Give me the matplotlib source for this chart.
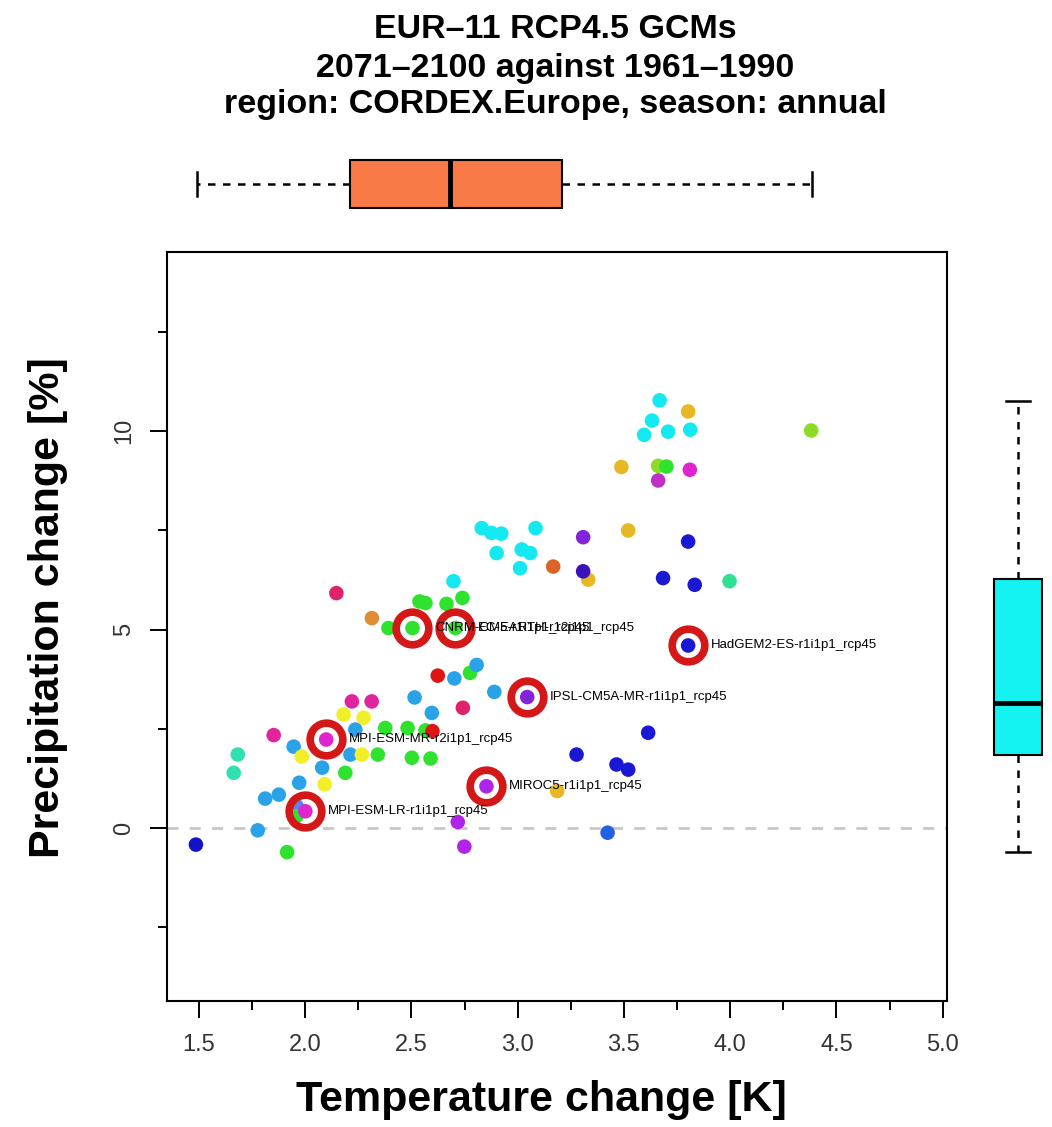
import matplotlib
matplotlib.use('Agg')
import matplotlib.pyplot as plt
from matplotlib.ticker import MultipleLocator, FixedLocator

plt.rcParams['font.family'] = ['Liberation Sans', 'DejaVu Sans']

# colours of the model groups
CY = '#14E8F0'
SKY = '#2AA2E8'
NAVY = '#1212C8'
BLUE = '#1A18D4'
BLUE2 = '#2262E2'
INDIGO = '#3A12B8'
PURPLE = '#8224DA'
VIOLET = '#B024E8'
MAG = '#E024D0'
MAG2 = '#E0249E'
PINKRED = '#E0226A'
RED = '#E01414'
DORANGE = '#DA6428'
ORANGE = '#E08C34'
GOLD = '#E8B824'
YELLOW = '#F2EE28'
LIME = '#8ADC24'
GREEN = '#2EE22E'
TEAL = '#30E092'
TEAL2 = '#30E0AE'
PERI = '#5A86EA'

# temperature change [K], precipitation change [%] and colour of every run
temp = [3.668, 3.802, 3.632, 3.595, 3.708, 3.812, 4.381, 3.488, 3.661, 3.700,
        3.810, 3.661, 2.831, 2.876, 2.923, 3.084, 2.901, 3.019, 3.059, 3.011,
        3.167, 3.308, 3.520, 3.332, 3.308, 3.802, 3.684, 3.833, 3.997, 2.698,
        2.740, 2.147, 2.314, 2.538, 2.566, 2.665, 2.392, 2.505, 2.707, 3.802,
        2.624, 2.702, 2.776, 2.807, 2.890, 3.045, 2.515, 2.220, 2.313, 2.742,
        2.596, 2.181, 2.275, 1.852, 1.946, 2.099, 2.236, 2.377, 2.482, 2.566,
        2.599, 1.984, 2.213, 2.267, 2.342, 2.502, 2.590, 1.683, 1.664, 2.080,
        2.189, 2.092, 1.972, 1.876, 1.812, 1.960, 1.960, 2.001, 1.777, 1.486,
        1.915, 2.853, 3.186, 2.718, 2.749, 3.423, 3.614, 3.277, 3.465, 3.520]
prec = [10.78, 10.50, 10.27, 9.91, 9.99, 10.04, 10.02, 9.10, 9.13, 9.11,
        9.03, 8.76, 7.56, 7.44, 7.42, 7.56, 6.93, 7.02, 6.93, 6.55,
        6.59, 7.33, 7.50, 6.26, 6.47, 7.22, 6.30, 6.13, 6.22, 6.22,
        5.80, 5.92, 5.29, 5.71, 5.67, 5.65, 5.04, 5.04, 5.04, 4.60,
        3.84, 3.77, 3.91, 4.11, 3.43, 3.30, 3.29, 3.19, 3.19, 3.03,
        2.90, 2.86, 2.78, 2.34, 2.05, 2.23, 2.48, 2.52, 2.52, 2.46,
        2.44, 1.80, 1.85, 1.85, 1.85, 1.77, 1.75, 1.85, 1.39, 1.52,
        1.39, 1.10, 1.14, 0.84, 0.74, 0.55, 0.30, 0.42, -0.06, -0.42,
        -0.61, 1.05, 0.93, 0.15, -0.47, -0.12, 2.40, 1.85, 1.60, 1.47]
cols = [CY, GOLD, CY, CY, CY, CY, LIME, GOLD, LIME, GREEN,
        MAG, '#C030C8', CY, CY, CY, CY, CY, CY, CY, CY,
        DORANGE, PURPLE, GOLD, GOLD, INDIGO, BLUE, BLUE, BLUE, TEAL, CY,
        GREEN, PINKRED, ORANGE, GREEN, GREEN, GREEN, GREEN, GREEN, GREEN, BLUE,
        RED, SKY, GREEN, SKY, SKY, PURPLE, SKY, MAG2, MAG2, PINKRED,
        SKY, YELLOW, YELLOW, MAG2, SKY, MAG, SKY, GREEN, GREEN, GREEN,
        RED, YELLOW, SKY, YELLOW, GREEN, GREEN, GREEN, TEAL2, TEAL2, SKY,
        GREEN, YELLOW, SKY, SKY, SKY, PERI, GREEN, MAG, SKY, NAVY,
        GREEN, VIOLET, GOLD, VIOLET, VIOLET, BLUE2, BLUE, BLUE, BLUE, BLUE]

# selected GCMs (circled)
hl_names = ['CNRM-CM5-r1i1p1_rcp45', 'EC-EARTH-r12i1p1_rcp45', 'HadGEM2-ES-r1i1p1_rcp45',
            'IPSL-CM5A-MR-r1i1p1_rcp45', 'MPI-ESM-MR-r2i1p1_rcp45', 'MIROC5-r1i1p1_rcp45',
            'MPI-ESM-LR-r1i1p1_rcp45']
hl_temp = [2.505, 2.707, 3.802, 3.045, 2.099, 2.853, 2.001]
hl_prec = [5.04, 5.04, 4.60, 3.30, 2.23, 1.05, 0.42]

# marginal box plots (whisker low, q1, median, q3, whisker high)
temp_box = [1.49, 2.213, 2.681, 3.207, 4.386]
prec_box = [-0.60, 1.85, 3.16, 6.28, 10.77]

title_lines = ['EUR–11 RCP4.5 GCMs', '2071–2100 against 1961–1990',
               'region: CORDEX.Europe, season: annual']

W, H = 1052, 1127
fig = plt.figure(figsize=(W / 100, H / 100), dpi=100)

L, R, T, B = 167, 947, 252, 1000.5
ax = fig.add_axes([L / W, 1 - B / H, (R - L) / W, (B - T) / H])
ax.set_xlim(1.35, 5.02)
ax.set_ylim(-4.35, 14.52)

ax.axhline(0, color='#c8c8c8', lw=2, dashes=(4, 4), zorder=1)
ax.scatter(temp, prec, s=110, c=cols, linewidths=0, zorder=2)
ax.plot(hl_temp, hl_prec, 'o', ms=23.5, mfc='none', mec='#d41818', mew=5.5, ls='none', zorder=3)
# the CNRM and EC-EARTH labels overlap in the original too
for n, x, y in zip(hl_names, hl_temp, hl_prec):
    ax.annotate(n, (x, y), xytext=(16.5, 0), textcoords='offset points',
                fontsize=9.5, va='center', ha='left', color='black', zorder=4)

ax.xaxis.set_major_locator(MultipleLocator(0.5))
ax.xaxis.set_minor_locator(MultipleLocator(0.25))
ax.yaxis.set_major_locator(FixedLocator([0, 5, 10]))
ax.yaxis.set_minor_locator(FixedLocator([-2.5, 2.5, 7.5, 12.5]))
ax.yaxis.set_major_formatter(plt.FuncFormatter(lambda v, p: '%d' % v))
ax.xaxis.set_major_formatter(plt.FuncFormatter(lambda v, p: '%.1f' % v))
ax.tick_params(axis='x', which='major', length=12, width=1.4, pad=12, labelsize=17, labelcolor='#333333')
ax.tick_params(axis='x', which='minor', length=6.5, width=1.4)
ax.tick_params(axis='y', which='major', length=12, width=1.4, pad=11, labelsize=17, labelcolor='#333333')
ax.tick_params(axis='y', which='minor', length=6.5, width=1.4)
for lab in ax.get_yticklabels():
    lab.set_rotation(90)
    lab.set_va('center')
for s in ax.spines.values():
    s.set_linewidth(1.5)

# top box plot of temperature change
axt = fig.add_axes([L / W, 1 - 218 / H, (R - L) / W, 68 / H])
axt.set_xlim(ax.get_xlim())
axt.set_ylim(-0.5, 0.5)
st = [dict(whislo=temp_box[0], q1=temp_box[1], med=temp_box[2], q3=temp_box[3], whishi=temp_box[4], fliers=[])]
axt.bxp(st, positions=[0], widths=[0.706], vert=False, patch_artist=True,
        boxprops=dict(facecolor='#F97A46', edgecolor='black', lw=1.5),
        medianprops=dict(color='black', lw=3.5),
        whiskerprops=dict(color='black', lw=1.8, dashes=(3, 3)),
        capprops=dict(color='black', lw=1.8))
axt.axis('off')

# right box plot of precipitation change
axr = fig.add_axes([984 / W, 1 - B / H, 68 / W, (B - T) / H])
axr.set_ylim(ax.get_ylim())
axr.set_xlim(-0.5, 0.5)
sr = [dict(whislo=prec_box[0], q1=prec_box[1], med=prec_box[2], q3=prec_box[3], whishi=prec_box[4], fliers=[])]
axr.bxp(sr, positions=[0], widths=[0.706], vert=True, patch_artist=True,
        boxprops=dict(facecolor='#14F2F2', edgecolor='black', lw=1.5),
        medianprops=dict(color='black', lw=3.5),
        whiskerprops=dict(color='black', lw=1.8, dashes=(3, 3)),
        capprops=dict(color='black', lw=1.8))
axr.axis('off')

for txt, yy in zip(title_lines, [30, 68, 105]):
    fig.text(555 / W, 1 - yy / H, txt, ha='center', va='center', fontsize=24.5, fontweight='bold')

fig.text(541 / W, 1 - 1100 / H, 'Temperature change [K]', ha='center', va='center',
         fontsize=31, fontweight='bold')
fig.text(48 / W, 1 - 608 / H, 'Precipitation change [%]', ha='center', va='center',
         rotation=90, fontsize=31, fontweight='bold')

fig.savefig('out.png', dpi=100)
